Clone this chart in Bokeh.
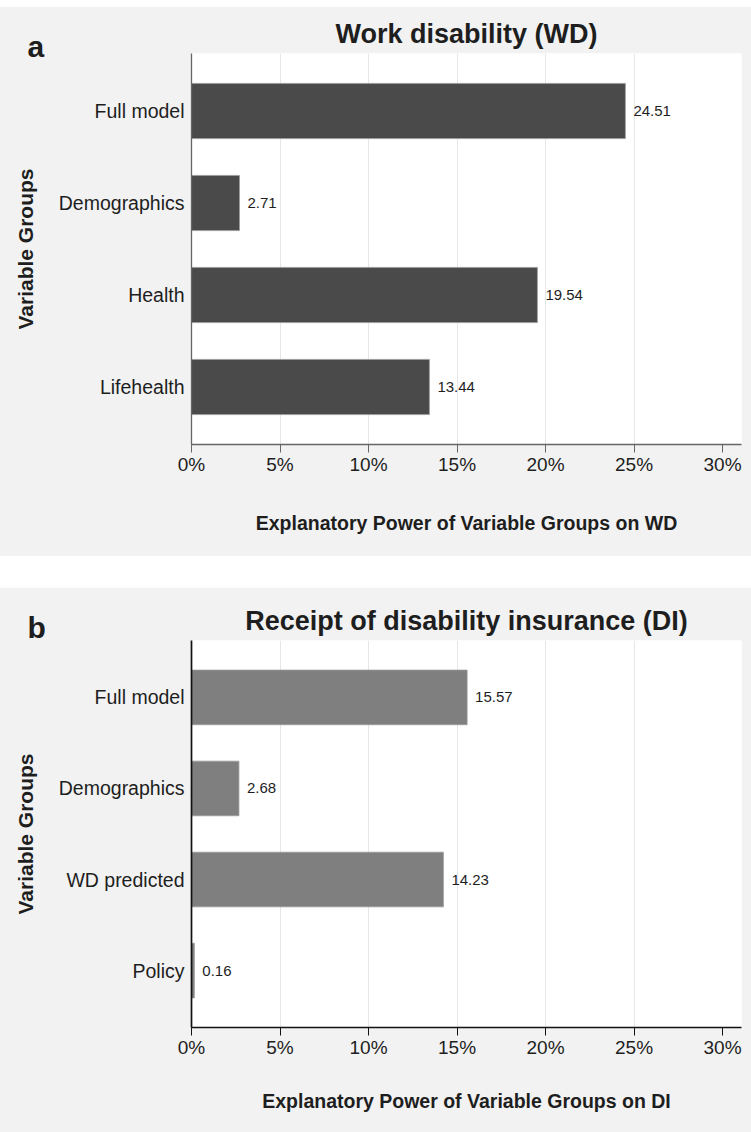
from bokeh.plotting import figure
from bokeh.layouts import column
from bokeh.models import FactorRange, Range1d, ColumnDataSource, FixedTicker, Label, LabelSet
from bokeh.core.properties import value
from bokeh.embed import file_html
from bokeh.resources import INLINE

# ---- data ----
groups_wd = ["Full model", "Demographics", "Health", "Lifehealth"]
values_wd = [24.51, 2.71, 19.54, 13.44]
groups_di = ["Full model", "Demographics", "WD predicted", "Policy"]
values_di = [15.57, 2.68, 14.23, 0.16]
x_ticks = [0, 5, 10, 15, 20, 25, 30]
x_tick_labels = ["0%", "5%", "10%", "15%", "20%", "25%", "30%"]

FONT = "Liberation Sans"
BG = "#f2f2f2"
TXT = "#1e1e1e"
E = 20  # extra left room (figure shifted left by the same amount)


def panel(letter, title, groups, values, bar_color, axis_color, xlabel,
          height, top, frame_h, letter_y, xlab_standoff, axis_w):
    src = ColumnDataSource(dict(g=groups, v=values, t=["%.2f" % v for v in values]))
    p = figure(width=746 + E, height=height, output_backend="svg", toolbar_location=None,
               y_range=FactorRange(factors=list(reversed(groups)), range_padding=0.0625),
               x_range=Range1d(0, 31.07),
               min_border_left=186 + E, min_border_right=10, min_border_top=top,
               min_border_bottom=height - top - frame_h)
    p.border_fill_color = BG
    p.background_fill_color = "white"
    p.outline_line_color = None

    p.hbar(y="g", right="v", left=0, height=0.6, source=src,
           fill_color=bar_color, line_color="#9a9a9a", line_width=0.8)
    p.add_layout(LabelSet(x="v", y="g", text="t", source=src, x_offset=8,
                          text_baseline="middle", text_font=value(FONT),
                          text_font_size=value("15px"), text_color=TXT))

    p.title.text = title
    p.title.align = "center"
    p.title.text_font = FONT
    p.title.text_font_size = "27px"
    p.title.text_font_style = "bold"
    p.title.text_color = TXT
    p.title.standoff = 10

    xa = p.xaxis[0]
    xa.ticker = FixedTicker(ticks=x_ticks)
    xa.major_label_overrides = {t: l for t, l in zip(x_ticks, x_tick_labels)}
    xa.minor_tick_line_color = None
    xa.major_tick_in = 0
    xa.major_tick_out = 8
    xa.major_tick_line_color = axis_color
    xa.axis_line_color = axis_color
    xa.axis_line_width = axis_w
    xa.major_label_standoff = 1
    xa.major_label_text_font = FONT
    xa.major_label_text_font_size = "19px"
    xa.major_label_text_color = TXT
    xa.axis_label = xlabel
    xa.axis_label_text_font = FONT
    xa.axis_label_text_font_size = "19.5px"
    xa.axis_label_text_font_style = "bold"
    xa.axis_label_text_color = TXT
    xa.axis_label_standoff = xlab_standoff

    ya = p.yaxis[0]
    ya.major_tick_line_color = None
    ya.minor_tick_line_color = None
    ya.major_tick_in = 0
    ya.major_tick_out = 0
    ya.axis_line_color = axis_color
    ya.axis_line_width = axis_w
    ya.major_label_standoff = 7
    ya.major_label_text_font = FONT
    ya.major_label_text_font_size = "19.5px"
    ya.major_label_text_color = TXT
    ya.axis_label = "Variable Groups"
    ya.axis_label_text_font = FONT
    ya.axis_label_text_font_size = "21px"
    ya.axis_label_text_font_style = "bold"
    ya.axis_label_text_color = TXT
    ya.axis_label_standoff = 19

    # panel letter, placed in the left side panel so it is not clipped to the frame
    p.add_layout(Label(x=22 + E, y=letter_y, x_units="canvas", y_units="canvas",
                       text=letter, text_font=FONT, text_font_size="30px",
                       text_font_style="bold", text_color=TXT,
                       text_baseline="alphabetic"), "left")

    p.ygrid.grid_line_color = None
    p.xgrid.ticker = FixedTicker(ticks=x_ticks[1:-1])
    p.xgrid.grid_line_color = "#e6e6e6"
    p.xgrid.grid_line_width = 1
    return p


pa = panel("a", "Work disability (WD)", groups_wd, values_wd, "#4a4a4a", "#666666",
           "Explanatory Power of Variable Groups on WD",
           height=550, top=47, frame_h=391, letter_y=40, xlab_standoff=34, axis_w=1.3)
pb = panel("b", "Receipt of disability insurance (DI)", groups_di, values_di, "#7f7f7f", "#111111",
           "Explanatory Power of Variable Groups on DI",
           height=545, top=53, frame_h=387, letter_y=40, xlab_standoff=29, axis_w=1.7)

layout = column(pa, pb, spacing=31, margin=(6, 0, 0, 5 - E))
open("out.html", "w").write(file_html(layout, INLINE))
